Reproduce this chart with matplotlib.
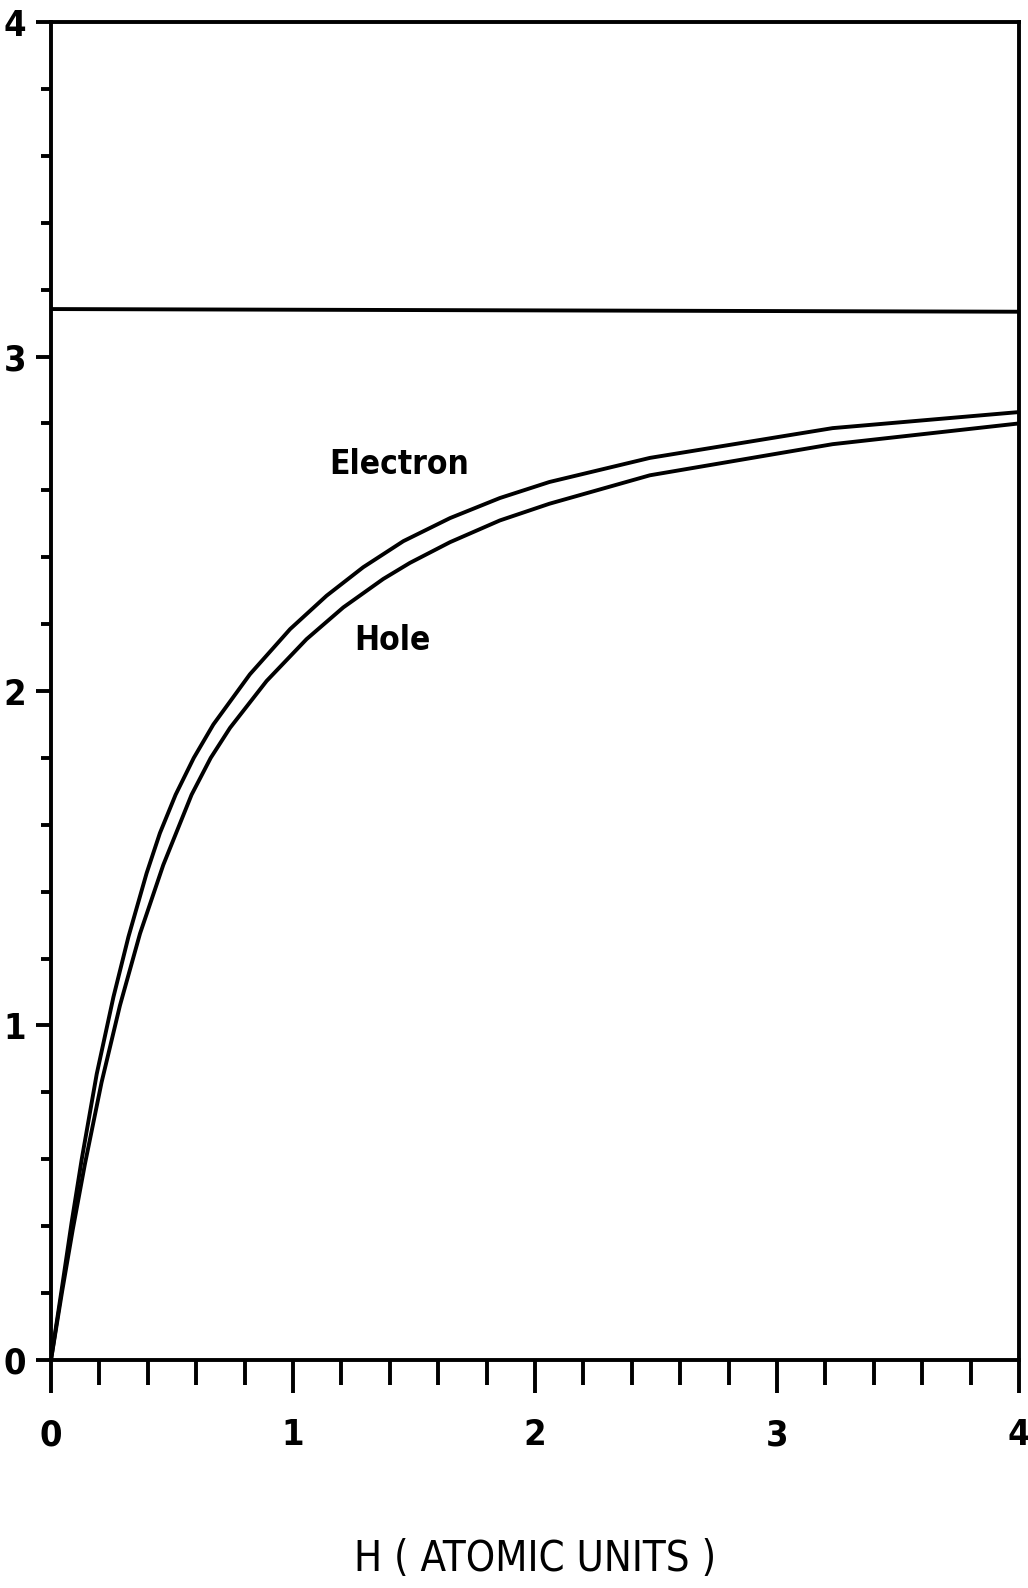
import matplotlib
matplotlib.use("Agg")
import matplotlib.pyplot as plt
from matplotlib.ticker import MultipleLocator

# ---- data ----
h_electron = [0, 0.044, 0.085, 0.127, 0.189, 0.258, 0.32, 0.395, 0.45, 0.515, 0.59,
              0.671, 0.822, 0.988, 1.139, 1.29, 1.456, 1.649, 1.855, 2.06, 2.475,
              3.23, 4.0]
electron = [0, 0.21, 0.41, 0.60, 0.855, 1.085, 1.265, 1.455, 1.575, 1.69, 1.80,
            1.90, 2.05, 2.185, 2.285, 2.37, 2.448, 2.517, 2.577, 2.625, 2.697,
            2.786, 2.834]
h_hole = [0, 0.046, 0.09, 0.14, 0.209, 0.285, 0.368, 0.464, 0.581, 0.66, 0.74,
          0.891, 1.056, 1.208, 1.373, 1.483, 1.649, 1.855, 2.06, 2.475, 3.23, 4.0]
hole = [0, 0.205, 0.39, 0.585, 0.83, 1.06, 1.275, 1.48, 1.69, 1.80, 1.89,
        2.03, 2.155, 2.25, 2.335, 2.383, 2.445, 2.51, 2.56, 2.645, 2.738, 2.80]
limit_x = [0, 4]
limit_y = [3.142, 3.134]
xticks = [0, 1, 2, 3, 4]
yticks = [0, 1, 2, 3, 4]
xlabel = "H ( ATOMIC UNITS )"

# ---- font ----
plt.rcParams["font.family"] = ["DejaVu Sans", "Liberation Sans"]
plt.rcParams["font.stretch"] = "condensed"

fig = plt.figure(figsize=(10.28, 15.88), dpi=100)
ax = fig.add_axes([0.0496, 0.1436, 0.9416, 0.8425])

lw = 2.8
ax.plot(h_electron, electron, color="black", lw=lw, solid_capstyle="round",
        solid_joinstyle="round")
ax.plot(h_hole, hole, color="black", lw=lw, solid_capstyle="round",
        solid_joinstyle="round")
ax.plot(limit_x, limit_y, color="black", lw=lw)

ax.set_xlim(0, 4)
ax.set_ylim(0, 4)
for s in ax.spines.values():
    s.set_linewidth(lw)

ax.set_xticks(xticks)
ax.set_yticks(yticks)
ax.xaxis.set_minor_locator(MultipleLocator(0.2))
ax.yaxis.set_minor_locator(MultipleLocator(0.2))
ax.tick_params(axis="x", which="major", direction="out", length=24, width=lw, pad=18,
               labelsize=26)
ax.tick_params(axis="x", which="minor", direction="out", length=18, width=lw)
ax.tick_params(axis="y", which="major", direction="out", length=11, width=lw, pad=7,
               labelsize=26)
ax.tick_params(axis="y", which="minor", direction="out", length=7, width=lw)
for lab in ax.get_xticklabels() + ax.get_yticklabels():
    lab.set_fontweight("bold")
    lab.set_fontstretch("condensed")

ax.text(1.44, 2.676, "Electron", fontsize=24, fontweight="bold", fontstretch="condensed",
        ha="center", va="center")
ax.text(1.41, 2.15, "Hole", fontsize=24, fontweight="bold", fontstretch="condensed",
        ha="center", va="center")

ax.set_xlabel(xlabel, fontsize=30, fontstretch="condensed", labelpad=62)

fig.savefig("out.png", dpi=100, facecolor="white")
